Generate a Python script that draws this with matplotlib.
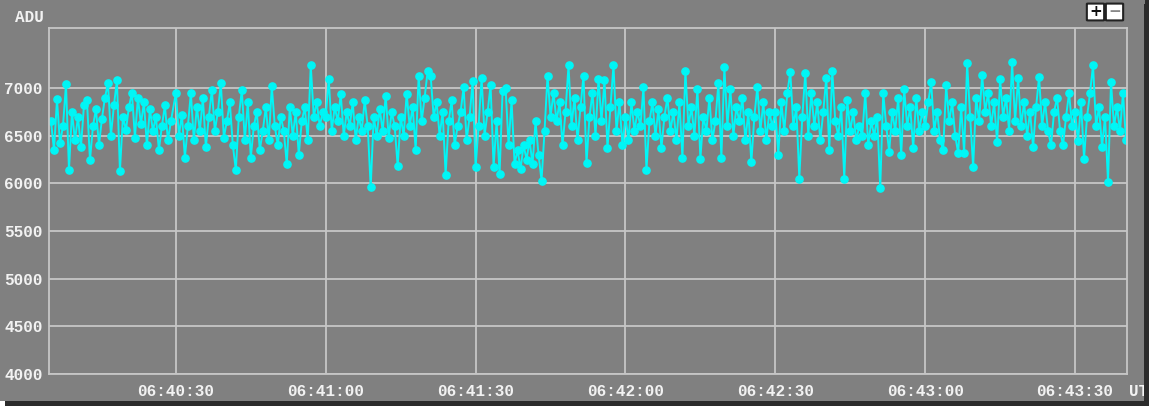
import numpy as np
import matplotlib
matplotlib.use("Agg")
import matplotlib.pyplot as plt
import matplotlib.dates as mdates
from matplotlib.patches import Rectangle, FancyBboxPatch

# ADU samples, one every 0.6 s, split by half-minute blocks
step_ms = 600
adu_0640_05 = [6650, 6350, 6880, 6420, 6600, 7040, 6140, 6750, 6450, 6700,
               6380, 6820, 6870, 6240, 6600, 6780, 6400, 6680, 6900, 7050,
               6500, 6820, 7080, 6130, 6700, 6560, 6800, 6950, 6480, 6900,
               6620, 6850, 6400, 6780, 6550, 6700, 6350, 6600, 6820, 6450,
               6650]
adu_0640_30 = [6950, 6500, 6720, 6270, 6600, 6950, 6450, 6800, 6550, 6900,
               6380, 6700, 6980, 6550, 6750, 7050, 6480, 6650, 6850, 6400,
               6140, 6700, 6980, 6450, 6850, 6270, 6600, 6750, 6350, 6550,
               6800, 6450, 7020, 6600, 6400, 6700, 6550, 6200, 6800, 6500,
               6750, 6300, 6650, 6800, 6450, 7240, 6700, 6850, 6600, 6750]
adu_0641_00 = [6700, 7100, 6550, 6800, 6650, 6940, 6500, 6750, 6600, 6850,
               6450, 6700, 6550, 6870, 6600, 5960, 6700, 6500, 6780, 6550,
               6920, 6480, 6750, 6600, 6180, 6700, 6500, 6940, 6600, 6800,
               6350, 7130, 6650, 6900, 7180, 7130, 6700, 6850, 6500, 6750,
               6090, 6650, 6870, 6400, 6600, 6750, 7010, 6450, 6700, 7070]
adu_0641_30 = [6170, 6600, 7110, 6500, 6750, 7030, 6170, 6650, 6100, 6970,
               7000, 6400, 6870, 6200, 6350, 6150, 6400, 6250, 6450, 6200,
               6650, 6300, 6030, 6550, 7130, 6700, 6950, 6650, 6850, 6400,
               6750, 7240, 6600, 6900, 6450, 6800, 7130, 6210, 6700, 6950,
               6500, 7100, 6650, 7080, 6370, 6800, 7240, 6550, 6850, 6400]
adu_0642_00 = [6700, 6450, 6850, 6550, 6750, 6600, 7010, 6140, 6650, 6850,
               6500, 6780, 6370, 6700, 6900, 6550, 6750, 6450, 6850, 6270,
               7180, 6600, 6800, 6500, 6990, 6260, 6700, 6550, 6900, 6450,
               6650, 7050, 6270, 7220, 6600, 6990, 6500, 6800, 6650, 6900,
               6450, 6750, 6220, 6700, 7010, 6550, 6850, 6450, 6750, 6600]
adu_0642_30 = [6750, 6300, 6850, 6550, 6950, 7170, 6600, 6800, 6050, 6700,
               7160, 6500, 6950, 6600, 6850, 6450, 6750, 7110, 6350, 7180,
               6650, 6500, 6800, 6050, 6870, 6550, 6750, 6450, 6600, 6500,
               6950, 6400, 6650, 6500, 6700, 5950, 6950, 6600, 6330, 6750,
               6550, 6900, 6300, 6990, 6600, 6800, 6370, 6900, 6550, 6750]
adu_0643_00 = [6600, 6850, 7060, 6550, 6750, 6450, 6350, 7030, 6650, 6850,
               6500, 6320, 6800, 6320, 7260, 6700, 6170, 6900, 6650, 7140,
               6750, 6950, 6600, 6850, 6430, 7090, 6700, 6900, 6550, 7270,
               6650, 7110, 6600, 6850, 6500, 6750, 6380, 6800, 7120, 6600,
               6850, 6550, 6400, 6750, 6900, 6550, 6400, 6700, 6950, 6600]
adu_0643_30 = [6750, 6440, 6850, 6260, 6700, 6950, 7240, 6600, 6800, 6380,
               6700, 6010, 7060, 6600, 6800, 6550, 6950, 6450]

block_starts = ["2024-01-01T06:40:05", "2024-01-01T06:40:30",
                "2024-01-01T06:41:00", "2024-01-01T06:41:30",
                "2024-01-01T06:42:00", "2024-01-01T06:42:30",
                "2024-01-01T06:43:00", "2024-01-01T06:43:30"]
blocks = [adu_0640_05, adu_0640_30, adu_0641_00, adu_0641_30,
          adu_0642_00, adu_0642_30, adu_0643_00, adu_0643_30]

times = []
values = []
for start, vals in zip(block_starts, blocks):
    t0 = np.datetime64(start, "ms")
    for i, v in enumerate(vals):
        times.append(t0 + np.timedelta64(i * step_ms, "ms"))
        values.append(v)
times = np.array(times)
values = np.array(values)

y_ticks = [4000, 4500, 5000, 5500, 6000, 6500, 7000]

W, H = 1152, 411
gray = "#808080"
gridc = "#c6c6c6"
textc = "#f2f2f2"
mono = {"family": "Liberation Mono", "weight": "bold", "size": 11.5}

fig = plt.figure(figsize=(W / 100, H / 100), dpi=100, facecolor="white")

# panel with drop shadow
fig.add_artist(Rectangle((5 / W, 1 - 406 / H), 1144 / W, 406 / H,
                         transform=fig.transFigure, facecolor="#2b2b2b",
                         edgecolor="none", zorder=-3))
fig.add_artist(Rectangle((0, 1 - 401 / H), 1145 / W, 401 / H,
                         transform=fig.transFigure, facecolor=gray,
                         edgecolor="none", zorder=-2))

ax = fig.add_axes([49 / W, 1 - 374 / H, (1127 - 49) / W, (374 - 28) / H])
ax.set_facecolor(gray)
ax.plot(times, values, color="#00f6f6", lw=1.4, marker="o", ms=5.2,
        mec="#00f6f6", mfc="#00f6f6")

ax.set_ylim(4000, 7630)
ax.set_xlim(np.datetime64("2024-01-01T06:40:04.600"),
            np.datetime64("2024-01-01T06:43:40.400"))
ax.set_yticks(y_ticks)
ax.xaxis.set_major_locator(mdates.SecondLocator(bysecond=[0, 30]))
ax.xaxis.set_major_formatter(mdates.DateFormatter("%H:%M:%S"))
ax.grid(True, color=gridc, lw=1.3)
ax.set_axisbelow(True)
for s in ax.spines.values():
    s.set_color(gridc)
    s.set_linewidth(1.3)
ax.tick_params(axis="both", length=0, colors=textc)
ax.tick_params(axis="y", pad=4.5)
ax.tick_params(axis="x", pad=7)
for lab in ax.get_xticklabels() + ax.get_yticklabels():
    lab.set_fontproperties(mono)
    lab.set_color(textc)

fig.text(15 / W, 1 - 17 / H, "ADU", ha="left", va="center", color=textc,
         zorder=3, **mono)
fig.text(1129 / W, 1 - 391 / H, "UT", ha="left", va="center", color=textc,
         zorder=3, **mono)

# right edge shadow drawn over the cut-off "UT"
fig.add_artist(Rectangle((1144 / W, 1 - 406 / H), 5 / W, 402 / H,
                         transform=fig.transFigure, facecolor="#2b2b2b",
                         edgecolor="none", zorder=4))
fig.add_artist(Rectangle((1149 / W, 0), 3 / W, 1,
                         transform=fig.transFigure, facecolor="white",
                         edgecolor="none", zorder=4))

# zoom buttons
for x0, sym, col in [(1088, "+", "#111111"), (1107, "\u2212", "#888888")]:
    fig.add_artist(FancyBboxPatch((x0 / W, 1 - 20 / H), 15 / W, 16 / H,
                                  boxstyle="round,pad=0.001",
                                  transform=fig.transFigure,
                                  facecolor="white", edgecolor="#222222",
                                  lw=1.5, zorder=5))
    fig.text((x0 + 7.5) / W, 1 - 12 / H, sym, ha="center", va="center",
             color=col, fontsize=11, fontweight="bold", zorder=6)

fig.savefig("out.png", dpi=100, facecolor="white")
